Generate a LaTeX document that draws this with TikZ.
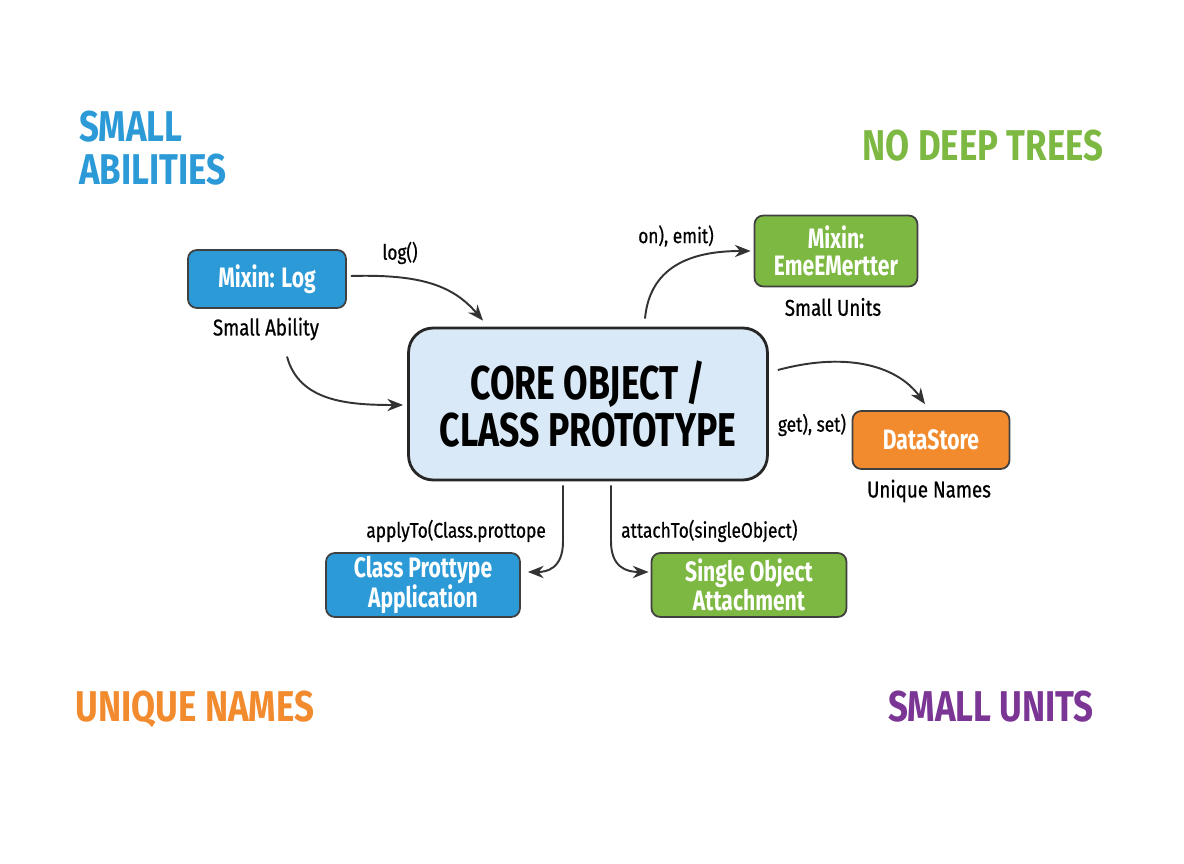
\documentclass[tikz,border=0pt]{standalone}
\usepackage{fontspec}
\setmainfont{Fira Sans}[FakeStretch=0.75]
\newfontfamily\mediumfont{Fira Sans}[FakeStretch=0.82, FakeBold=0.6]
\newfontfamily\titlefont{Fira Sans}[FakeStretch=0.81]
\usetikzlibrary{arrows.meta}

\definecolor{abilityblue}{HTML}{2D9AD8}
\definecolor{treegreen}{HTML}{7DB842}
\definecolor{nameorange}{HTML}{F28A2E}
\definecolor{unitpurple}{HTML}{7B3594}
\definecolor{corefill}{HTML}{DAE9F7}

\tikzset{
    box/.style={draw=black!75, line width=1pt, rounded corners=5pt,
        text=white, align=center, inner sep=0pt,
        font=\bfseries\fontsize{16}{15.5}\selectfont},
    tag/.style={font=\mediumfont\fontsize{13}{15}\selectfont},
    edgelabel/.style={font=\mediumfont\fontsize{12}{14}\selectfont},
    title/.style={font=\titlefont\bfseries\fontsize{24.5}{24.5}\selectfont},
    arr/.style={draw=black!80, line width=1.1pt, -{Stealth[length=9pt,width=7pt]}}
}

\begin{document}
\begin{tikzpicture}[x=0.02cm, y=-0.02cm]
    \useasboundingbox (0, 0) rectangle (1184, 864);

    % titles
    \node[title, text=abilityblue, anchor=west, align=left] (abilities)
        at (73, 148) {SMALL\\ABILITIES};
    \node[title, text=treegreen] (trees) at (983, 146) {NO DEEP TREES};
    \node[title, text=nameorange] (names) at (195, 709) {UNIQUE NAMES};
    \node[title, text=unitpurple] (units) at (991, 707) {SMALL UNITS};

    % core
    \node[draw=black!85, line width=1.6pt, fill=corefill, rounded corners=14pt,
        minimum width=7.18cm, minimum height=3.04cm, align=center,
        font=\bfseries\fontsize{27}{26.7}\selectfont] (core) at (588, 404)
        {CORE OBJECT /\\CLASS PROTOTYPE};

    % boxes
    \node[box, fill=abilityblue, minimum width=3.16cm, minimum height=1.16cm]
        (log) at (267, 279) {Mixin: Log};
    \node[box, fill=treegreen, minimum width=3.26cm, minimum height=1.42cm]
        (emitter) at (836, 251) {Mixin:\\EmeEMertter};
    \node[box, fill=nameorange, minimum width=3.14cm, minimum height=1.16cm]
        (store) at (931, 440) {DataStore};
    \node[box, fill=abilityblue, minimum width=3.88cm, minimum height=1.28cm]
        (class) at (423, 585) {Class Prottype\\Application};
    \node[box, fill=treegreen, minimum width=3.9cm, minimum height=1.28cm]
        (single) at (749, 585) {Single Object\\Attachment};

    % tags
    \node[tag] (ability) at (266, 329) {Small Ability};
    \node[tag] (smallunits) at (833, 307) {Small Units};
    \node[tag] (uniquenames) at (929, 491) {Unique Names};

    % edge labels
    \node[edgelabel] (loglabel) at (400, 253) {log()};
    \node[edgelabel] (emitlabel) at (676, 236) {on), emit)};
    \node[edgelabel] (setlabel) at (812, 425) {get), set)};
    \node[edgelabel, anchor=east] (applylabel) at (552, 531)
        {applyTo(Class.prottope};
    \node[edgelabel, anchor=west] (attachlabel) at (615, 531)
        {attachTo(singleObject)};

    % connectors
    \draw[arr] ([shift={(4, -3)}]log.east)
        .. controls +(70, -2) and +(-30, -35) .. ([shift={(-105, -6)}]core.north);
    \draw[arr] ([shift={(21, 10)}]ability.south)
        .. controls +(12, 45) and +(-55, 0) .. ([shift={(-4, 1)}]core.west);
    \draw[arr] ([shift={(57, -8)}]core.north)
        .. controls +(5, -55) and +(-55, 0) .. ([shift={(-3, 0)}]emitter.west);
    \draw[arr] ([shift={(9, -34)}]core.east)
        .. controls +(75, -20) and +(-25, -35) .. ([shift={(-6, -6)}]store.north);
    \draw[arr] ([shift={(-25, 4)}]core.south) -- ++(0, 56)
        .. controls +(0, 28) and +(18, 0) .. ([shift={(7, -13)}]class.east);
    \draw[arr] ([shift={(23, 4)}]core.south) -- ++(0, 56)
        .. controls +(0, 26) and +(-22, 0) .. ([shift={(-2, -13)}]single.west);
\end{tikzpicture}
\end{document}
